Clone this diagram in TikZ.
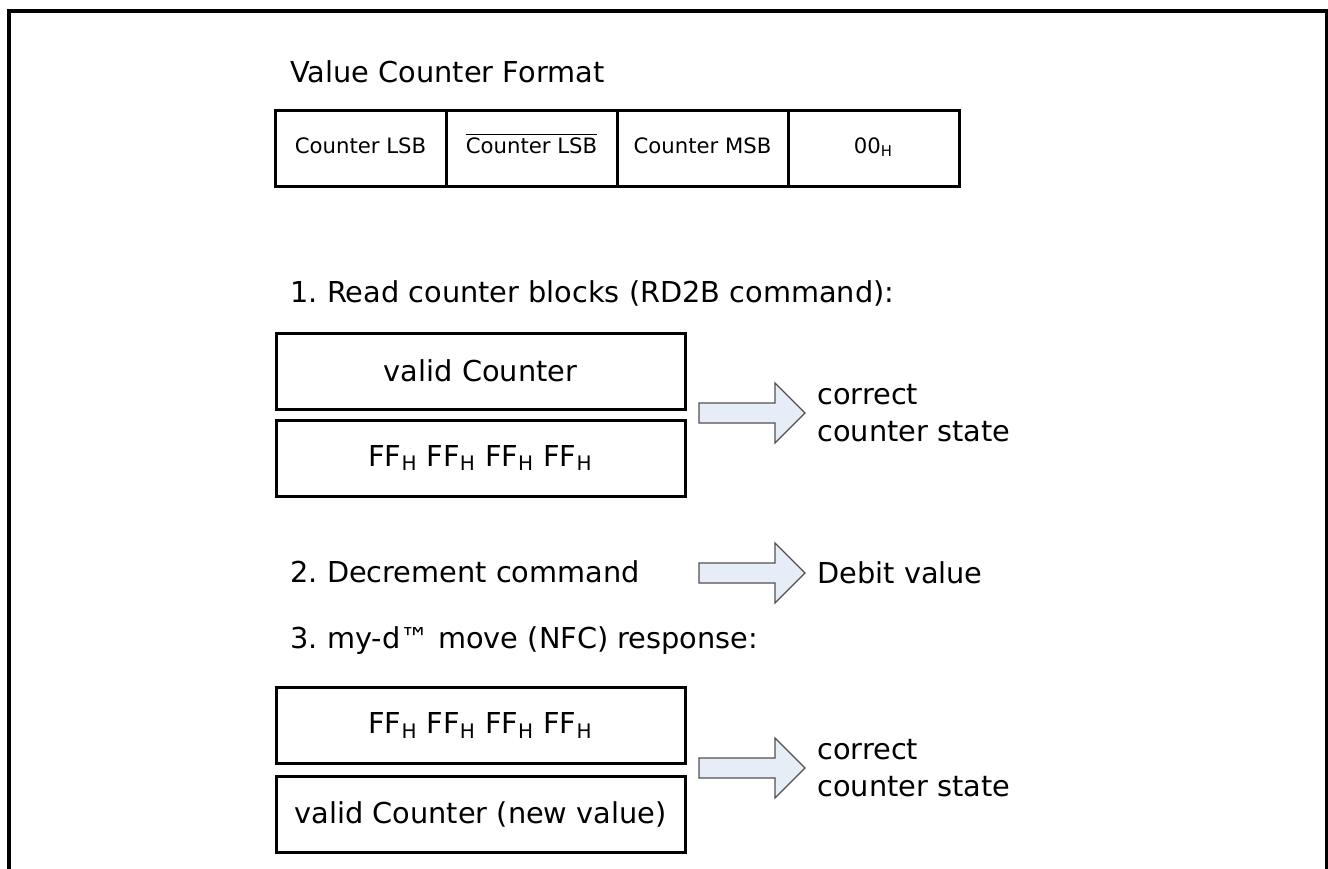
\documentclass[tikz,border=0pt]{standalone}
\usepackage{fontspec}
\setmainfont{DejaVu Sans}
\usetikzlibrary{positioning}
\frenchspacing
\definecolor{arrowfill}{HTML}{E6EDF7}
\definecolor{arrowline}{HTML}{505050}
\newcommand{\hexb}[1]{#1\textsubscript{H}}
\newcommand{\fatarrow}[1]{%
  \draw[blockarrow] (#1) ++(0,-10) -- ++(76,0) -- ++(0,-20) -- ++(30,30)
    -- ++(-30,30) -- ++(0,-20) -- ++(-76,0) -- cycle;}

\begin{document}
\begin{tikzpicture}[x=0.5pt,y=-0.5pt,
  every node/.style={font=\fontsize{14.4}{18.5}\selectfont},
  cell/.style={draw,line width=1.5pt,minimum width=85.5pt,minimum height=38pt,
    outer sep=0pt,inner sep=0pt,text height=5pt,text depth=0pt,
    font=\fontsize{10.6}{12}\selectfont},
  block/.style={draw,line width=1.5pt,minimum width=204.5pt,minimum height=38pt,outer sep=0pt},
  heading/.style={anchor=base west,inner sep=0pt},
  result/.style={anchor=west,inner sep=0pt,align=left},
  blockarrow/.style={draw=arrowline,fill=arrowfill,line width=0.6pt}]
  \useasboundingbox (0,0) rectangle (1328,868);
  % outer frame
  \draw[line width=2pt] (9,890) -- (9,11) -- (1327,11) -- (1327,890);

  \node[heading] (title) at (290,82) {Value Counter Format};
  \node[cell] (lsb) at (360.5,148) {Counter LSB};
  \node[cell,right=0pt of lsb] (nlsb) {$\overline{\mbox{Counter LSB}}$};
  \node[cell,right=0pt of nlsb] (msb) {Counter MSB};
  \node[cell,right=0pt of msb] (zero) {\hexb{00}};

  % 1.
  \node[heading] (step1) at (290,302) {1. Read counter blocks (RD2B command):};
  \node[block] (valid1) at (480.5,371) {valid Counter};
  \node[block,below=5.5pt of valid1] (ff1) {\hexb{FF} \hexb{FF} \hexb{FF} \hexb{FF}};
  \coordinate (tail1) at (699,413);
  \fatarrow{tail1}
  \node[result] (state1) at (817,413) {correct\\counter state};

  % 2.
  \node[heading] (step2) at (290,582) {2. Decrement command};
  \coordinate (tail2) at (699,573);
  \fatarrow{tail2}
  \node[result] (debit) at (817,573) {Debit value};

  % 3.
  \node[heading] (step3) at (290,648) {3. my-d™ move (NFC) response:};
  \node[block] (ff3) at (480.5,725.5) {\hexb{FF} \hexb{FF} \hexb{FF} \hexb{FF}};
  \node[block,below=6.5pt of ff3] (valid3) {valid Counter (new value)};
  \coordinate (tail3) at (699,768);
  \fatarrow{tail3}
  \node[result] (state3) at (817,768) {correct\\counter state};
\end{tikzpicture}
\end{document}
